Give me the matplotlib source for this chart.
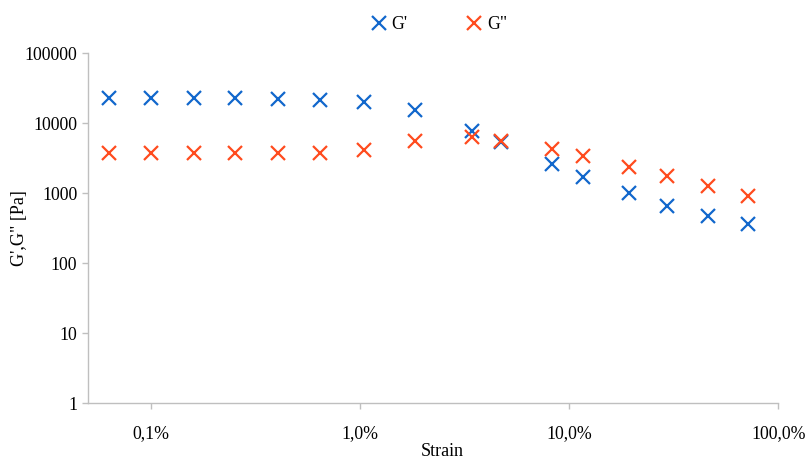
import matplotlib
matplotlib.use("Agg")
import matplotlib.pyplot as plt
from matplotlib.ticker import FixedLocator, NullLocator

# strain in percent
strain = [0.0634, 0.100, 0.161, 0.254, 0.405, 0.643, 1.04, 1.84,
          3.42, 4.72, 8.26, 11.7, 19.3, 29.4, 46.3, 71.4]
g_storage = [23200, 23200, 22750, 22750, 22250, 21540, 19950, 15490,
             7840, 5350, 2620, 1730, 1020, 665, 469, 361]
g_loss = [3800, 3800, 3730, 3730, 3730, 3800, 4150, 5585,
          6310, 5640, 4295, 3410, 2400, 1766, 1271, 924]

x_ticks = [0.1, 1, 10, 100]
x_labels = ["0,1%", "1,0%", "10,0%", "100,0%"]
y_ticks = [1, 10, 100, 1000, 10000, 100000]

blue = "#1167CC"
red = "#FF4B1E"
grey = "#BFBFBF"

plt.rcParams["font.family"] = ["Liberation Serif", "DejaVu Serif"]

fig = plt.figure(figsize=(8.1, 4.59), dpi=100)
ax = fig.add_axes([0.109, 0.1213, 0.852, 0.7626])

ax.plot(strain, g_storage, linestyle="none", marker="x", markersize=10,
        markeredgewidth=1.6, color=blue, label="G'")
ax.plot(strain, g_loss, linestyle="none", marker="x", markersize=10,
        markeredgewidth=1.6, color=red, label='G"')

ax.set_xscale("log")
ax.set_yscale("log")
ax.set_xlim(0.0503, 100)
ax.set_ylim(1, 100000)

ax.xaxis.set_major_locator(FixedLocator(x_ticks))
ax.xaxis.set_minor_locator(NullLocator())
ax.set_xticklabels(x_labels)
ax.yaxis.set_major_locator(FixedLocator(y_ticks))
ax.yaxis.set_minor_locator(NullLocator())
ax.set_yticklabels([str(v) for v in y_ticks])

for side in ["top", "right"]:
    ax.spines[side].set_visible(False)
for side in ["left", "bottom"]:
    ax.spines[side].set_color(grey)
    ax.spines[side].set_linewidth(1)
ax.tick_params(axis="both", colors=grey, labelcolor="black", labelsize=12.8,
               length=4, width=1, direction="out")
ax.tick_params(axis="x", pad=12)
ax.tick_params(axis="y", pad=4)

ax.set_xlabel("Strain", fontsize=13, va="center")
ax.xaxis.set_label_coords(0.513, -0.139, transform=ax.transAxes)
ax.set_ylabel("G',G\" [Pa]", fontsize=13, va="center")
ax.yaxis.set_label_coords(-0.100, 0.5, transform=ax.transAxes)

fig.legend(loc="upper center", bbox_to_anchor=(0.541, 1.0), ncol=2,
           frameon=False, fontsize=12.8, handletextpad=0.15, columnspacing=3.2,
           handlelength=1.1)

fig.savefig("out.png", dpi=100)
